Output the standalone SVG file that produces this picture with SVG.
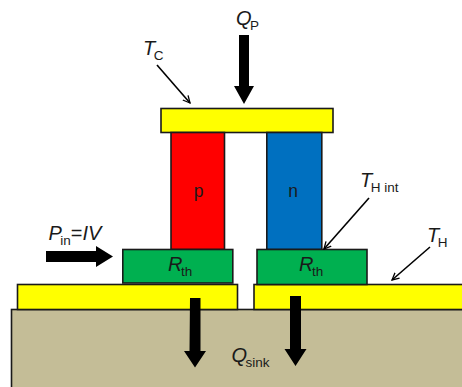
<svg xmlns="http://www.w3.org/2000/svg" width="462" height="387" viewBox="0 0 462 387">
<style>
text{font-family:"Liberation Sans",Arial,sans-serif;fill:#1a1a1a}
.m{font-size:20px;font-style:italic}
.s{font-size:13.500px;font-style:normal}
.l{font-size:17.500px}
.b{stroke:#1a1a1a;stroke-width:1.600}
.y{fill:#ffff00}.g{fill:#00b050}
.t{stroke:#000;stroke-width:1.600;fill:none}
</style>
<defs>
<marker id="open" markerWidth="10" markerHeight="10" refX="7.500" refY="4" orient="auto" markerUnits="userSpaceOnUse"><path d="M0.500 0.500L7.500 4L0.500 7.500" fill="none" stroke="#000" stroke-width="1.300"/></marker>
</defs>
<g id="sink"><rect class="b" x="11.500" y="309.500" width="460" height="90" fill="#c4bd97"/></g>
<g id="hot-left"><rect class="b y" x="17.500" y="284.500" width="220" height="25"/></g>
<g id="hot-right"><rect class="b y" x="254" y="284.500" width="220" height="25"/></g>
<g id="cold"><rect class="b y" x="161" y="108.500" width="172" height="24"/></g>
<g id="leg-p"><rect class="b" x="171" y="132.500" width="53.500" height="117" fill="#ff0000"/><text class="l" x="198.500" y="197" text-anchor="middle">p</text></g>
<g id="leg-n"><rect class="b" x="266.800" y="132.500" width="55" height="117" fill="#0070c0"/><text class="l" x="293" y="197" text-anchor="middle">n</text></g>
<g id="rth-left"><rect class="b g" x="122.800" y="249.500" width="110" height="33.500"/><text class="m" x="168" y="271">R<tspan class="s" dy="5" dx="-1.500">th</tspan></text></g>
<g id="rth-right"><rect class="b g" x="257" y="249.500" width="110" height="35"/><text class="m" x="299" y="271">R<tspan class="s" dy="5" dx="-1.500">th</tspan></text></g>
<g id="connectors">
<path d="M239 35h10v51h5l-10 18l-10-18h5z"/>
<path d="M46 251h50v-5l17 10.500l-17 10.500v-5h-50z"/>
<path d="M190 298h10.500v53h5.500l-11 16.500l-11-16.500h5.500z"/>
<path d="M290 296h11v53h5.500l-11 17l-11-17h5.500z"/>
<path class="t" marker-end="url(#open)" d="M157 65L190 103"/>
<path class="t" marker-end="url(#open)" d="M369 198L324 249"/>
<path class="t" marker-end="url(#open)" d="M430 247L392 280"/>
</g>
<g id="labels">
<text class="m" x="236" y="25">Q<tspan class="s" dy="5" dx="-1.500">P</tspan></text>
<text class="m" x="143" y="55">T<tspan class="s" dy="5" dx="-1.500">C</tspan></text>
<text class="m" x="48.500" y="240">P<tspan class="s" dy="5" dx="-1.500">in</tspan><tspan dy="-5" font-style="normal">=</tspan>IV</text>
<text class="m" x="360" y="187">T<tspan class="s" dy="5" dx="-1.500">H int</tspan></text>
<text class="m" x="427" y="242">T<tspan class="s" dy="5" dx="-1.500">H</tspan></text>
<text class="m" x="231.500" y="362">Q<tspan class="s" dy="5" dx="-1.500">sink</tspan></text>
</g>
</svg>
